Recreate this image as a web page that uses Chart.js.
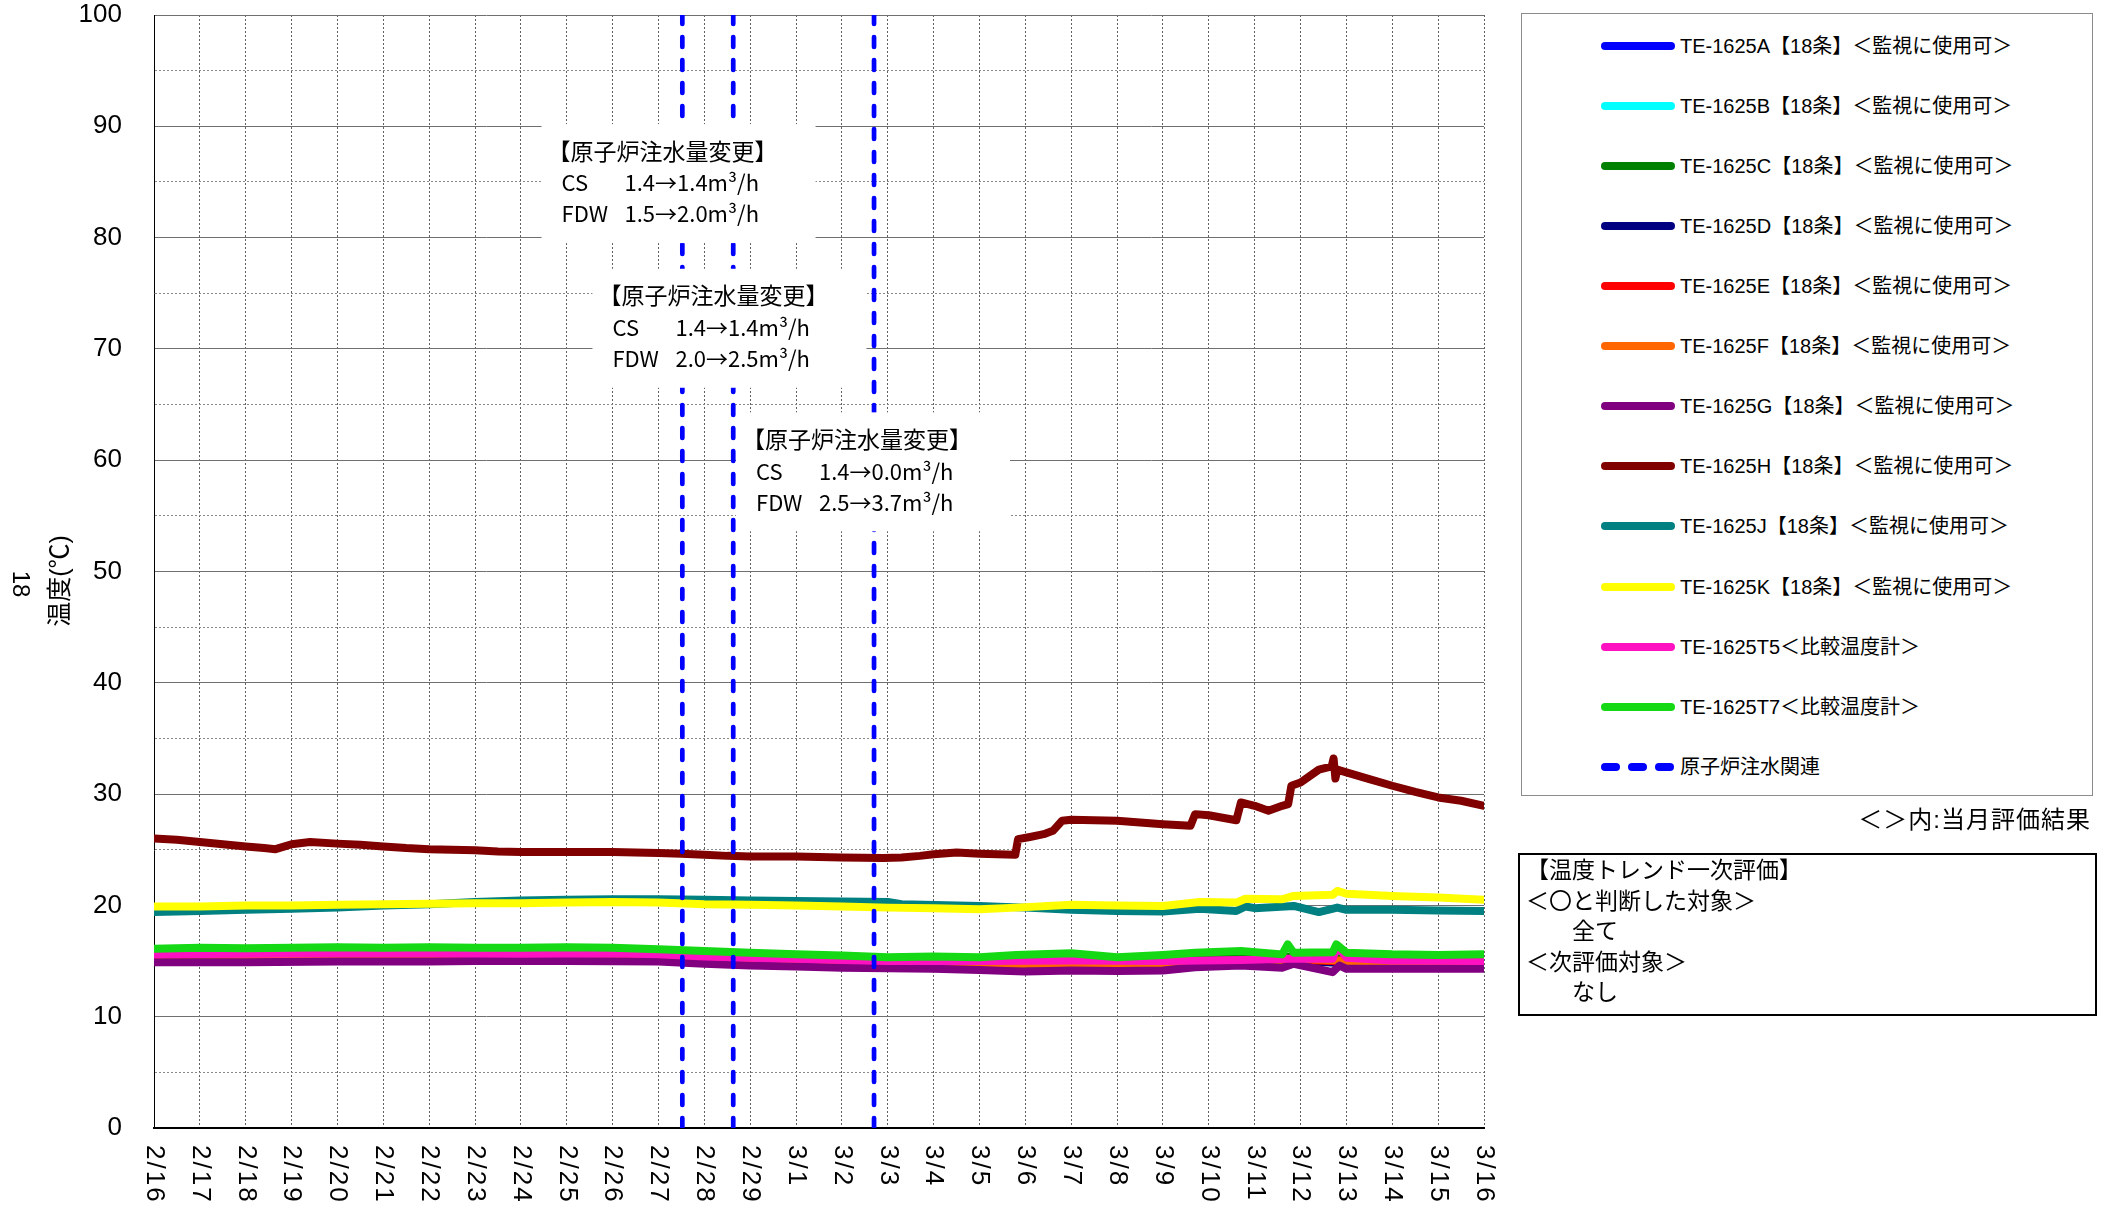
<!DOCTYPE html>
<html>
<head>
<meta charset="utf-8">
<script src="https://cdn.jsdelivr.net/npm/chart.js@4.4.1/dist/chart.umd.min.js"></script>
<style>
  body { margin: 0; background: #fff; }
  #wrap { position: relative; width: 2109px; height: 1208px; overflow: hidden; }
  #chart { position: absolute; left: 0; top: 0; }
  .jp { font-family: "Liberation Sans", "Noto Sans CJK JP", sans-serif; color: #000; }
  #legend { position: absolute; left: 1521px; top: 13px; width: 572px; height: 783px;
            border: 1px solid #8c8c8c; box-sizing: border-box; background: #fff; }
  .item { position: absolute; left: 0; width: 100%; height: 30px; }
  .swatch { position: absolute; left: 79px; top: 11px; height: 8px; border-radius: 4px; }
  .label { position: absolute; left: 158px; top: 0; font-size: 20px; line-height: 30px; white-space: nowrap; }
  #note { position: absolute; right: 18px; top: 805px; font-size: 24px; line-height: 30px; letter-spacing: 1px; }
  #evalBox { position: absolute; left: 1518px; top: 853px; width: 579px; height: 163px;
             border: 2px solid #000; box-sizing: border-box; padding: 0px 4px 0 6px;
             font-size: 23px; line-height: 30.5px; white-space: pre; }
</style>
</head>
<body>
<div id="wrap">
  <canvas id="chart" width="2109" height="1208"></canvas>
  <div id="legend" class="jp"></div>
  <div id="note" class="jp">＜＞内:当月評価結果</div>
  <div id="evalBox" class="jp">【温度トレンド一次評価】
＜〇と判断した対象＞
　　全て
＜次評価対象＞
　　なし</div>
</div>
<script>
// x is days since 2/16 (2/16 = 0, 3/16 = 29)
const dayLabels = ['2/16', '2/17', '2/18', '2/19', '2/20', '2/21', '2/22', '2/23', '2/24', '2/25',
    '2/26', '2/27', '2/28', '2/29', '3/1', '3/2', '3/3', '3/4', '3/5', '3/6', '3/7', '3/8',
    '3/9', '3/10', '3/11', '3/12', '3/13', '3/14', '3/15', '3/16'];

const seriesNames = [
    'TE-1625A【18条】＜監視に使用可＞',
    'TE-1625B【18条】＜監視に使用可＞',
    'TE-1625C【18条】＜監視に使用可＞',
    'TE-1625D【18条】＜監視に使用可＞',
    'TE-1625E【18条】＜監視に使用可＞',
    'TE-1625F【18条】＜監視に使用可＞',
    'TE-1625G【18条】＜監視に使用可＞',
    'TE-1625H【18条】＜監視に使用可＞',
    'TE-1625J【18条】＜監視に使用可＞',
    'TE-1625K【18条】＜監視に使用可＞',
    'TE-1625T5＜比較温度計＞',
    'TE-1625T7＜比較温度計＞',
    '原子炉注水関連',
];
const seriesColors = ['#0000ff', '#00ffff', '#008000', '#000080', '#ff0000', '#ff6600',
    '#800080', '#800000', '#008080', '#ffff00', '#ff10c0', '#14d914', '#0000ff'];

// [day, temperature]
const te1625A = [[0, 15.5], [6, 15.5], [11, 15.45], [14, 15.1], [18, 14.9], [22, 14.95], [25, 15.2], [26, 15.0], [29, 15.0]];
const te1625B = [[0, 15.6], [6, 15.6], [11, 15.5], [14, 15.2], [18, 15.0], [22, 15.1], [25, 15.3], [26, 15.1], [29, 15.1]];
const te1625C = [[0, 15.7], [6, 15.75], [11, 15.6], [14, 15.3], [18, 15.1], [22, 15.2], [25, 15.4], [26, 15.2], [29, 15.2]];
const te1625D = [[0, 15.3], [6, 15.3], [11, 15.2], [14, 14.9], [18, 14.7], [22, 14.75], [25, 15.0], [26, 14.8], [29, 14.8]];
const te1625E = [[0, 15.45], [6, 15.5], [11, 15.4], [14, 15.05], [18, 14.85], [22, 14.9], [25, 15.1], [26, 14.95], [29, 14.95]];
const te1625F = [[0, 15.4], [2, 15.45], [4, 15.45], [6, 15.4], [8, 15.45], [10, 15.45], [11, 15.35], [12, 15.2],
    [13, 15.1], [14, 15.0], [15, 14.9], [16, 14.8], [18, 14.75], [20, 14.75], [22, 14.8], [24, 14.85],
    [24.8, 15.2], [25.7, 15.1], [26.5, 14.8], [29, 14.85]];
const te1625G = [[0, 14.9], [2, 14.9], [4, 14.95], [6, 14.95], [7, 15.0], [9, 15.0], [11, 14.95], [12, 14.75],
    [13, 14.6], [14, 14.5], [15, 14.4], [16, 14.35], [17, 14.3], [18, 14.2], [19, 14.05], [20, 14.15],
    [21, 14.1], [22, 14.15], [22.7, 14.45], [23.7, 14.6], [24.6, 14.4], [24.85, 14.75], [25.7, 14.0],
    [25.85, 14.6], [26, 14.3], [27, 14.3], [29, 14.3]];
const te1625H = [[0, 26.0], [0.5, 25.9], [1, 25.7], [1.5, 25.5], [2, 25.3], [2.4, 25.15], [2.65, 25.05],
    [2.85, 25.3], [3, 25.5], [3.4, 25.7], [4, 25.55], [4.5, 25.45], [5, 25.3], [5.5, 25.15], [6, 25.05],
    [7, 24.95], [7.5, 24.85], [8, 24.8], [9, 24.8], [10, 24.8], [10.5, 24.75], [11, 24.7], [11.5, 24.65],
    [12, 24.55], [12.5, 24.45], [13, 24.4], [14, 24.4], [15, 24.3], [15.9, 24.25], [16.3, 24.3],
    [16.7, 24.45], [17, 24.6], [17.5, 24.75], [18, 24.65], [18.78, 24.55], [18.84, 25.95], [19.1, 26.15],
    [19.4, 26.4], [19.6, 26.7], [19.8, 27.6], [20, 27.7], [21, 27.6], [22, 27.3], [22.6, 27.15],
    [22.7, 28.2], [23, 28.1], [23.6, 27.65], [23.7, 29.25], [24, 28.95], [24.3, 28.5], [24.6, 28.95],
    [24.73, 29.1], [24.8, 30.75], [25, 31.05], [25.4, 32.2], [25.68, 32.5], [25.72, 33.2], [25.76, 31.4],
    [25.8, 32.2], [26, 31.95], [26.5, 31.35], [27, 30.75], [27.5, 30.2], [28, 29.7], [28.5, 29.4], [29, 28.95]];
const te1625J = [[0, 19.4], [1, 19.5], [2, 19.6], [3, 19.7], [4, 19.8], [5, 20.0], [6, 20.1], [7, 20.3],
    [8, 20.45], [9, 20.5], [10, 20.55], [11, 20.55], [12, 20.5], [13, 20.45], [14, 20.4], [15, 20.35],
    [16, 20.3], [16.3, 20.1], [18, 19.95], [19, 19.8], [20, 19.6], [21, 19.5], [22, 19.45], [22.8, 19.7],
    [23.6, 19.5], [23.8, 19.9], [24, 19.75], [24.85, 19.95], [25.4, 19.4], [25.8, 19.8], [26, 19.6],
    [27, 19.6], [28, 19.55], [29, 19.5]];
const te1625K = [[0, 19.9], [1, 19.9], [2, 20.0], [3, 20.0], [4, 20.05], [5, 20.1], [6, 20.15], [7, 20.2],
    [8, 20.2], [9, 20.25], [10, 20.3], [11, 20.25], [12, 20.1], [13, 20.05], [14, 20.0], [15, 19.9],
    [16, 19.8], [17, 19.75], [18, 19.65], [18.8, 19.8], [20, 20.05], [21, 20.0], [22, 19.95], [22.8, 20.3],
    [23.6, 20.25], [23.8, 20.6], [24.6, 20.55], [24.85, 20.85], [25.7, 20.95], [25.8, 21.3], [26, 21.05],
    [27, 20.85], [28, 20.7], [29, 20.5]];
const te1625T5 = [[0, 15.6], [2, 15.65], [4, 15.7], [6, 15.7], [8, 15.65], [10, 15.7], [11, 15.6], [12, 15.4],
    [13, 15.3], [14, 15.2], [15, 15.1], [16, 15.0], [18, 15.0], [20, 15.05], [22, 15.0], [23.7, 15.1],
    [24.7, 15.2], [25.7, 15.2], [25.8, 16.4], [26, 15.3], [27, 15.05], [29, 15.0]];
const te1625T7 = [[0, 16.1], [1, 16.2], [2, 16.15], [3, 16.2], [4, 16.25], [5, 16.2], [6, 16.25], [7, 16.2],
    [8, 16.2], [9, 16.25], [10, 16.2], [11, 16.05], [12, 15.9], [13, 15.75], [14, 15.6], [15, 15.5],
    [16, 15.35], [17, 15.4], [18, 15.35], [18.8, 15.55], [20, 15.7], [21, 15.35], [22, 15.55],
    [22.7, 15.75], [23.7, 15.9], [24.6, 15.6], [24.72, 16.5], [24.85, 15.75], [25.7, 15.8],
    [25.78, 16.5], [26, 15.75], [27, 15.6], [28, 15.55], [29, 15.6]];

// injection flow changes (day)
const injectionDays = [11.52, 12.63, 15.7];

// annotation boxes: top-left corner in data coords
const noteDays = [8.45, 9.56, 12.69];
const noteTops = [90.2, 77.2, 64.3];
const noteCS = ['1.4→1.4m³/h', '1.4→1.4m³/h', '1.4→0.0m³/h'];
const noteFDW = ['1.5→2.0m³/h', '2.0→2.5m³/h', '2.5→3.7m³/h'];

const tempSeries = [te1625A, te1625B, te1625C, te1625D, te1625E, te1625F, te1625G,
    te1625H, te1625J, te1625K, te1625T5, te1625T7];

const toPoints = arr => arr.map(([d, v]) => ({ x: d, y: v }));

let datasets = tempSeries.map((s, i) => ({
    label: seriesNames[i],
    data: toPoints(s),
    borderColor: seriesColors[i],
    borderWidth: 8,
    pointRadius: 0,
    borderJoinStyle: 'round',
    borderCapStyle: 'round',
    order: seriesNames.length - i,
}));

let injectionPoints = [];
injectionDays.forEach(d => {
    injectionPoints.push({ x: d, y: 0 }, { x: d, y: 100 }, { x: d, y: null });
});
datasets.push({
    label: seriesNames[12],
    data: injectionPoints,
    borderColor: seriesColors[12],
    borderWidth: 4.7,
    borderDash: [10, 13],
    borderCapStyle: 'round',
    pointRadius: 0,
    spanGaps: false,
    order: 0,
});

const fontLatin = '"Liberation Sans", sans-serif';
const fontJp = '"Liberation Sans", "Noto Sans CJK JP", sans-serif';

const textPlugin = {
    id: 'textPlugin',
    afterDatasetsDraw(chart) {
        const { ctx, scales: { x, y } } = chart;
        noteDays.forEach((d, i) => {
            const left = x.getPixelForValue(d);
            const top = y.getPixelForValue(noteTops[i]);
            ctx.save();
            ctx.fillStyle = '#fff';
            ctx.fillRect(left, top, 274, 119);
            ctx.fillStyle = '#000';
            ctx.textBaseline = 'middle';
            ctx.font = '23px "Noto Sans CJK JP", sans-serif';
            ctx.fillText('【原子炉注水量変更】', left + 6, top + 27);
            ctx.font = '22px "Noto Sans CJK JP", sans-serif';
            ctx.fillText('CS', left + 20, top + 59);
            ctx.fillText(noteCS[i], left + 83, top + 59);
            ctx.fillText('FDW', left + 20, top + 90);
            ctx.fillText(noteFDW[i], left + 83, top + 90);
            ctx.restore();
        });
    },
    afterDraw(chart) {
        const { ctx, scales: { x } } = chart;
        ctx.save();
        ctx.fillStyle = '#000';
        ctx.font = '26px ' + fontLatin;
        ctx.textAlign = 'left';
        ctx.textBaseline = 'middle';
        ctx.letterSpacing = '2px';
        dayLabels.forEach((lbl, i) => {
            ctx.save();
            ctx.translate(x.getPixelForValue(i), 1145);
            ctx.rotate(Math.PI / 2);
            ctx.fillText(lbl, 0, 0);
            ctx.restore();
        });
        ctx.letterSpacing = '0px';
        // y axis title
        ctx.textAlign = 'center';
        ctx.font = '25px ' + fontJp;
        ctx.save();
        ctx.translate(61, 581);
        ctx.rotate(-Math.PI / 2);
        ctx.fillText('温度(℃)', 0, 0);
        ctx.restore();
        ctx.font = '24px ' + fontJp;
        ctx.save();
        ctx.translate(20, 584);
        ctx.rotate(Math.PI / 2);
        ctx.fillText('18', 0, 0);
        ctx.restore();
        ctx.restore();
    },
};

const chart = new Chart(document.getElementById('chart'), {
    type: 'line',
    data: { datasets: datasets },
    options: {
        responsive: false,
        animation: false,
        devicePixelRatio: 1,
        layout: { padding: { top: 15, right: 625, left: 0, bottom: 0 } },
        plugins: { legend: { display: false }, tooltip: { enabled: false } },
        scales: {
            x: {
                type: 'linear',
                min: 0,
                max: 29,
                ticks: { display: false, stepSize: 1, maxTicksLimit: 100 },
                grid: { color: '#606060', lineWidth: 1, drawTicks: false },
                border: { display: true, color: '#000', width: 2, dash: [2, 2] },
                afterFit: s => { s.height = 80; },
            },
            y: {
                weight: 1,
                min: 0,
                max: 100,
                ticks: {
                    stepSize: 5,
                    maxTicksLimit: 100,
                    padding: 0,
                    color: '#000',
                    font: { family: fontLatin, size: 26, lineHeight: 1 },
                    callback: v => (v % 10 === 0 ? v : ''),
                },
                grid: {
                    drawTicks: false,
                    color: c => (c.tick && c.tick.value % 10 === 0 ? '#707070' : 'transparent'),
                },
                border: { display: false },
                afterFit: s => { s.width = 122; },
            },
            yMinor: {
                weight: 0,
                position: 'left',
                min: 0,
                max: 100,
                ticks: { display: false, stepSize: 5, maxTicksLimit: 100 },
                grid: {
                    drawTicks: false,
                    color: c => (c.tick && c.tick.value % 10 !== 0 ? '#8a8a8a' : 'transparent'),
                },
                border: { display: true, color: '#000', width: 1, dash: [2, 2] },
                afterFit: s => { s.width = 32; },
            },
        },
    },
    plugins: [textPlugin],
});

// legend built from the series names and colours
const legendDiv = document.getElementById('legend');
seriesNames.forEach((name, i) => {
    const item = document.createElement('div');
    item.className = 'item';
    item.style.top = (44.6 + 60.1 * i - 13 - 15) + 'px';
    if (i === 12) {
        for (let k = 0; k < 3; k++) {
            const dash = document.createElement('div');
            dash.className = 'swatch';
            dash.style.left = (79 + k * 27) + 'px';
            dash.style.width = '19px';
            dash.style.background = seriesColors[i];
            item.appendChild(dash);
        }
    } else {
        const sw = document.createElement('div');
        sw.className = 'swatch';
        sw.style.width = '74px';
        sw.style.background = seriesColors[i];
        item.appendChild(sw);
    }
    const lbl = document.createElement('div');
    lbl.className = 'label';
    lbl.textContent = name;
    item.appendChild(lbl);
    legendDiv.appendChild(item);
});
</script>
</body>
</html>
